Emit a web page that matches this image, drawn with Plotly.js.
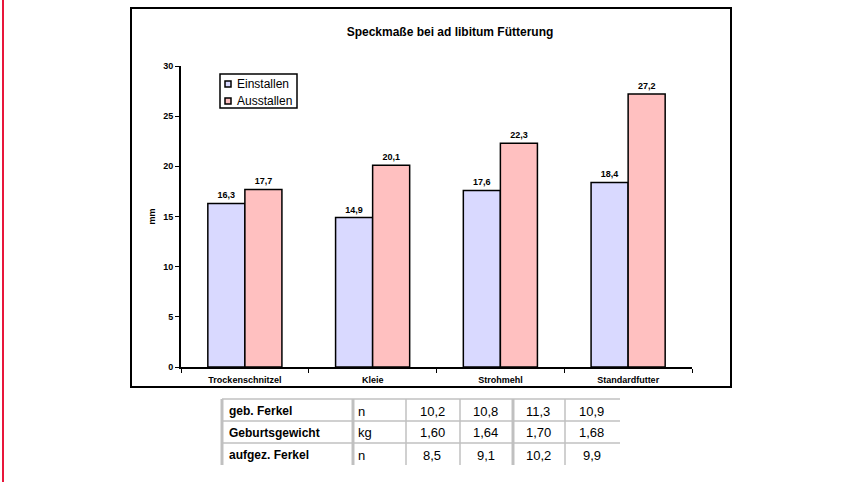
<!DOCTYPE html>
<html><head><meta charset="utf-8">
<script src="https://cdn.plot.ly/plotly-3.0.1.min.js"></script>
<style>html,body{margin:0;padding:0;background:#fff}</style>
</head>
<body>
<div id="chart" style="width:866px;height:482px"></div>
<script>
// ---- data ----
const categories = ["Trockenschnitzel", "Kleie", "Strohmehl", "Standardfutter"];
const einstallen = [16.3, 14.9, 17.6, 18.4];
const ausstallen = [17.7, 20.1, 22.3, 27.2];
const yTickVals = [0, 5, 10, 15, 20, 25, 30];
const seriesNames = ["Einstallen", "Ausstallen"];
const seriesColors = ["#d9d9ff", "#ffc0c0"];
const tableLabels = ["geb. Ferkel", "Geburtsgewicht", "aufgez. Ferkel"];
const tableUnits = ["n", "kg", "n"];
const gebFerkel = [10.2, 10.8, 11.3, 10.9];
const geburtsgewicht = [1.60, 1.64, 1.70, 1.68];
const aufgezFerkel = [8.5, 9.1, 10.2, 9.9];
const tableDecimals = [1, 2, 1];

// ---- layout helpers (pixel -> paper) ----
const W = 866, H = 482;
const PL = 181, PR = 692, PT = 66, PB = 367;
const px = x => (x - PL) / (PR - PL);
const py = y => (PB - y) / (PB - PT);
const FONT = "Arial, 'Liberation Sans', sans-serif";

const seriesValues = [einstallen, ausstallen];
const traces = seriesValues.map((vals, i) => ({
  type: "bar", name: seriesNames[i], x: categories, y: vals,
  marker: {color: seriesColors[i], line: {color: "#000", width: 1.5}},
  texttemplate: "<b>%{y:.1f}</b>", textposition: "outside", cliponaxis: false,
  textfont: {family: FONT, size: 9, color: "#000"}, hoverinfo: "skip",
  showlegend: false
}));

const shapes = [];
const annotations = [];

// outer frame
shapes.push({type: "rect", xref: "paper", yref: "paper",
  x0: px(131), x1: px(731), y0: py(387), y1: py(8),
  line: {color: "#000", width: 2}, fillcolor: "rgba(0,0,0,0)", layer: "below"});
// red margin line
shapes.push({type: "line", xref: "paper", yref: "paper",
  x0: px(3), x1: px(3), y0: py(0), y1: py(482),
  line: {color: "#e8163a", width: 2}});

// legend (custom, compact like the original)
shapes.push({type: "rect", xref: "paper", yref: "paper",
  x0: px(220), x1: px(297), y0: py(108), y1: py(74),
  line: {color: "#000", width: 1.5}, fillcolor: "#fff"});
const legendY = [84, 101];
seriesNames.forEach((name, i) => {
  shapes.push({type: "rect", xref: "paper", yref: "paper",
    x0: px(225), x1: px(231), y0: py(legendY[i] + 3), y1: py(legendY[i] - 3),
    line: {color: "#000", width: 1.5}, fillcolor: seriesColors[i]});
  annotations.push({xref: "paper", yref: "paper", x: px(235), y: py(legendY[i]),
    xanchor: "left", yanchor: "middle", showarrow: false,
    text: name, font: {family: FONT, size: 12, color: "#000"}});
});

// table
const colEdges = [222, 353, 406, 460, 513, 565, 620];
const rowEdges = [399, 421, 443, 465];
const tableRows = [gebFerkel, geburtsgewicht, aufgezFerkel];
const grey = "#c0c0c0";
for (let r = 0; r < 3; r++) {
  shapes.push({type: "line", xref: "paper", yref: "paper",
    x0: px(colEdges[0]), x1: px(colEdges[6]), y0: py(rowEdges[r]), y1: py(rowEdges[r]),
    line: {color: grey, width: 1.5}});
}
const thick = [3, 3, 1.5, 1.5, 3, 1.5];
for (let c = 0; c < 6; c++) {
  shapes.push({type: "line", xref: "paper", yref: "paper",
    x0: px(colEdges[c]), x1: px(colEdges[c]), y0: py(rowEdges[0]), y1: py(rowEdges[3]),
    line: {color: grey, width: thick[c]}});
}
for (let r = 0; r < 3; r++) {
  const yc = py((rowEdges[r] + rowEdges[r + 1]) / 2 + 1);
  annotations.push({xref: "paper", yref: "paper", x: px(colEdges[0] + 5), y: yc,
    xanchor: "left", yanchor: "middle", showarrow: false,
    text: "<b>" + tableLabels[r] + "</b>", font: {family: FONT, size: 12, color: "#000"}});
  annotations.push({xref: "paper", yref: "paper", x: px(colEdges[1] + 3), y: yc,
    xanchor: "left", yanchor: "middle", showarrow: false,
    text: tableUnits[r], font: {family: FONT, size: 13, color: "#000"}});
  for (let c = 0; c < 4; c++) {
    annotations.push({xref: "paper", yref: "paper",
      x: px((colEdges[c + 2] + colEdges[c + 3]) / 2 - 1), y: yc,
      xanchor: "center", yanchor: "middle", showarrow: false,
      text: tableRows[r][c].toFixed(tableDecimals[r]).replace(".", ","),
      font: {family: FONT, size: 13, color: "#000"}});
  }
}

const layout = {
  width: W, height: H,
  margin: {l: PL, r: W - PR, t: PT, b: H - PB, pad: 0},
  paper_bgcolor: "#fff", plot_bgcolor: "#fff",
  separators: ",.",
  font: {family: FONT, color: "#000"},
  title: {text: "<b>Speckmaße bei ad libitum Fütterung</b>",
    font: {family: FONT, size: 12, color: "#000"},
    x: 450 / W, xref: "container", xanchor: "center",
    y: 1 - 32 / H, yref: "container", yanchor: "middle"},
  barmode: "group", bargap: 0.42, bargroupgap: 0,
  showlegend: false,
  xaxis: {type: "category", showline: true, linecolor: "#000", linewidth: 2,
    ticks: "outside", tickson: "boundaries", ticklen: 4, tickcolor: "#000", tickwidth: 1,
    showgrid: false, zeroline: false, ticklabelstandoff: 3,
    tickfont: {family: FONT, size: 9, color: "#000", weight: "bold"}},
  yaxis: {range: [0, 30], tickvals: yTickVals, showline: true, linecolor: "#000", linewidth: 2,
    ticks: "outside", ticklen: 4, tickcolor: "#000", tickwidth: 1,
    showgrid: false, zeroline: false,
    tickfont: {family: FONT, size: 9, color: "#000", weight: "bold"},
    title: {text: "<b>mm</b>", font: {family: FONT, size: 9, color: "#000"}, standoff: 6}},
  shapes: shapes,
  annotations: annotations
};

Plotly.newPlot("chart", traces, layout, {displayModeBar: false, staticPlot: true});
</script>
</body></html>
